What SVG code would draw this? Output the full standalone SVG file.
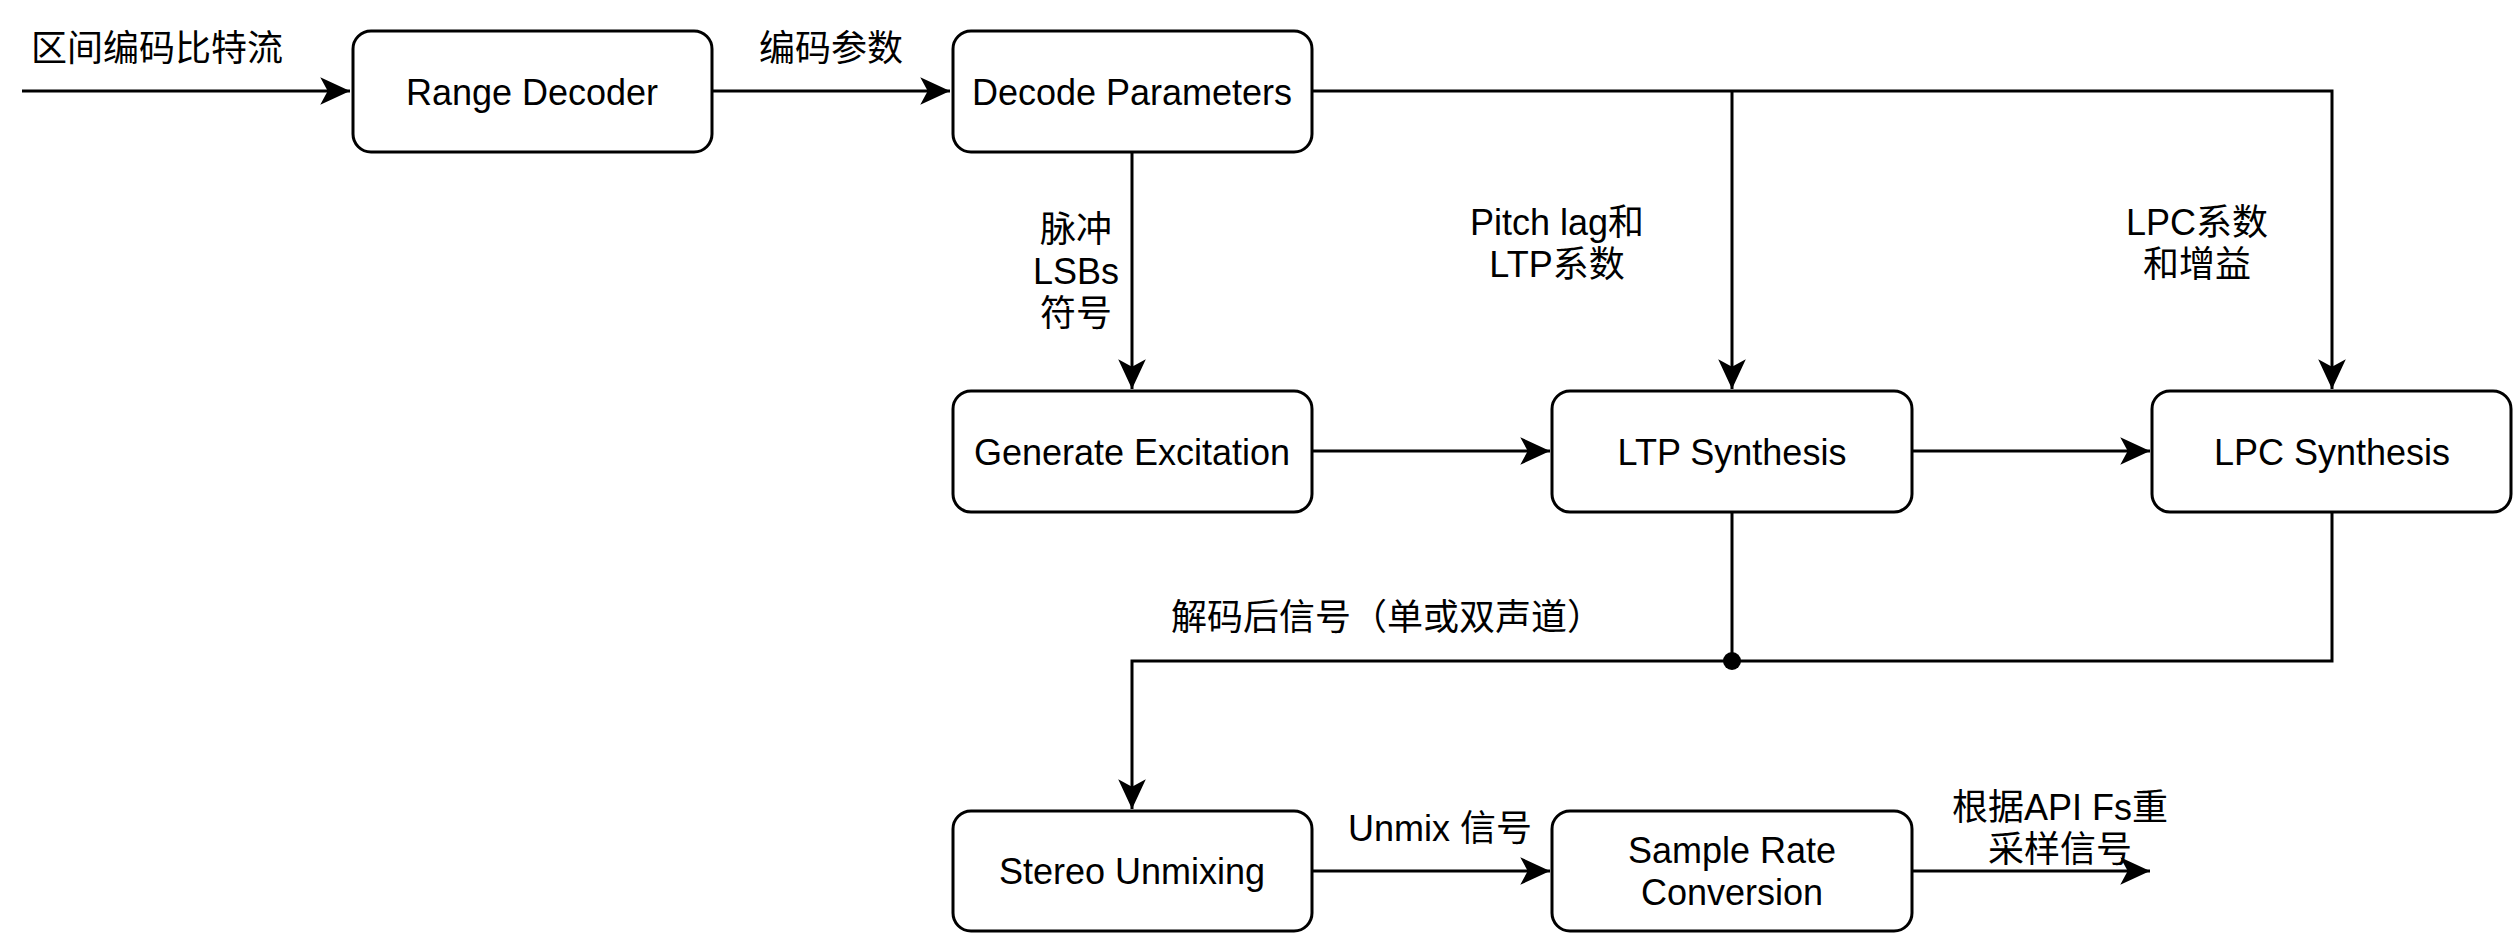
<svg xmlns="http://www.w3.org/2000/svg" width="2514" height="933" viewBox="0 0 2514 933">
<defs>
<marker id="arr" markerUnits="userSpaceOnUse" markerWidth="34" markerHeight="30" viewBox="-30 -14 32 28" refX="0" refY="0" orient="auto">
<path d="M0,0 L-28,-13 L-21,0 L-28,13 Z" fill="#000"/>
</marker>
</defs>
<style>
.box{fill:#fff;stroke:#000;stroke-width:3}
.t{font-family:"Liberation Sans","Noto Sans CJK SC",sans-serif;font-size:36px;fill:#000;text-anchor:middle;dominant-baseline:central}
.c{fill:none;stroke:#000;stroke-width:3}
</style>
<rect width="2514" height="933" fill="#fff"/>
<g id="connectors">
<path class="c" d="M22,91 H350" marker-end="url(#arr)"/>
<path class="c" d="M712,91 H950" marker-end="url(#arr)"/>
<path class="c" d="M1312,91 H2332 V389" marker-end="url(#arr)"/>
<path class="c" d="M1732,91 V389" marker-end="url(#arr)"/>
<path class="c" d="M1132,152 V389" marker-end="url(#arr)"/>
<path class="c" d="M1312,451 H1550" marker-end="url(#arr)"/>
<path class="c" d="M1912,451 H2150" marker-end="url(#arr)"/>
<path class="c" d="M1732,512 V661"/>
<path class="c" d="M2332,512 V661 H1132 V809" marker-end="url(#arr)"/>
<circle cx="1732" cy="661" r="9" fill="#000"/>
<path class="c" d="M1312,871 H1550" marker-end="url(#arr)"/>
<path class="c" d="M1912,871 H2150" marker-end="url(#arr)"/>
<text class="t" x="157" y="48">区间编码比特流</text>
<text class="t" x="831" y="48">编码参数</text>
<text class="t" x="1076" y="229">脉冲</text>
<text class="t" x="1076" y="271">LSBs</text>
<text class="t" x="1076" y="313">符号</text>
<text class="t" x="1557" y="222">Pitch lag和</text>
<text class="t" x="1557" y="264">LTP系数</text>
<text class="t" x="2197" y="222">LPC系数</text>
<text class="t" x="2197" y="264">和增益</text>
<text class="t" x="1387" y="617">解码后信号（单或双声道）</text>
<text class="t" x="1440" y="828">Unmix 信号</text>
<text class="t" x="2060" y="807">根据API Fs重</text>
<text class="t" x="2060" y="849">采样信号</text>
</g>
<g id="range-decoder"><rect class="box" x="353" y="31" width="359" height="121" rx="18"/><text class="t" x="532" y="92">Range Decoder</text></g>
<g id="decode-parameters"><rect class="box" x="953" y="31" width="359" height="121" rx="18"/><text class="t" x="1132" y="92">Decode Parameters</text></g>
<g id="generate-excitation"><rect class="box" x="953" y="391" width="359" height="121" rx="18"/><text class="t" x="1132" y="452">Generate Excitation</text></g>
<g id="ltp-synthesis"><rect class="box" x="1552" y="391" width="360" height="121" rx="18"/><text class="t" x="1732" y="452">LTP Synthesis</text></g>
<g id="lpc-synthesis"><rect class="box" x="2152" y="391" width="359" height="121" rx="18"/><text class="t" x="2332" y="452">LPC Synthesis</text></g>
<g id="stereo-unmixing"><rect class="box" x="953" y="811" width="359" height="120" rx="18"/><text class="t" x="1132" y="871">Stereo Unmixing</text></g>
<g id="sample-rate-conversion"><rect class="box" x="1552" y="811" width="360" height="120" rx="18"/><text class="t" x="1732" y="850">Sample Rate</text><text class="t" x="1732" y="892">Conversion</text></g>
</svg>
